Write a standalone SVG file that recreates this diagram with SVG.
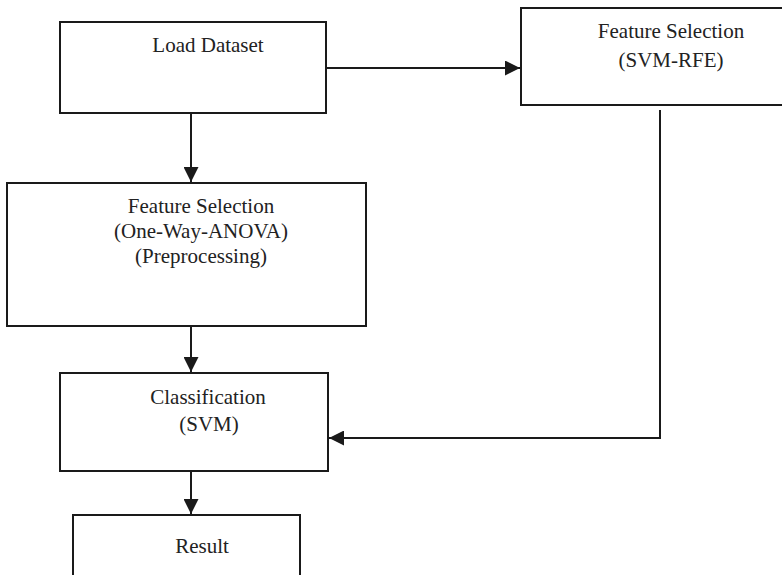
<svg xmlns="http://www.w3.org/2000/svg" width="782" height="575" viewBox="0 0 782 575">
<defs>
<style>
.box{fill:#fff;stroke:#1a1a1a;stroke-width:2}
.t{font-family:'Liberation Serif','DejaVu Serif',serif;font-size:21px;fill:#222;text-anchor:middle}
.c{fill:none;stroke:#1a1a1a;stroke-width:2}
</style>
<marker id="ah" markerWidth="15" markerHeight="15" refX="15" refY="7.5" orient="auto" markerUnits="userSpaceOnUse">
<path d="M0,0 L15,7.5 L0,15 Z" fill="#1a1a1a"/>
</marker>
</defs>
<rect width="782" height="575" fill="#fff"/>
<g id="connectors">
<line class="c" x1="327" y1="68" x2="520" y2="68" marker-end="url(#ah)"/>
<line class="c" x1="191" y1="114" x2="191" y2="182" marker-end="url(#ah)"/>
<line class="c" x1="191" y1="327" x2="191" y2="372" marker-end="url(#ah)"/>
<line class="c" x1="191" y1="472" x2="191" y2="514" marker-end="url(#ah)"/>
<polyline class="c" points="660,110 660,438 329,438" marker-end="url(#ah)"/>
</g>
<g id="load">
<rect class="box" x="60" y="22" width="266" height="91"/>
<text class="t" x="208" y="52" font-family="Liberation Serif">Load Dataset</text>
</g>
<g id="fs-rfe">
<rect class="box" x="521" y="8" width="262" height="97"/>
<text class="t" x="671" y="38" font-family="Liberation Serif">Feature Selection</text>
<text class="t" x="671" y="67" font-family="Liberation Serif">(SVM-RFE)</text>
</g>
<g id="fs-anova">
<rect class="box" x="7" y="183" width="359" height="143"/>
<text class="t" x="201" y="213" font-family="Liberation Serif">Feature Selection</text>
<text class="t" x="201" y="238" font-family="Liberation Serif">(One-Way-ANOVA)</text>
<text class="t" x="201" y="263" font-family="Liberation Serif">(Preprocessing)</text>
</g>
<g id="classification">
<rect class="box" x="60" y="373" width="268" height="98"/>
<text class="t" x="208" y="404" font-family="Liberation Serif">Classification</text>
<text class="t" x="209" y="431" font-family="Liberation Serif">(SVM)</text>
</g>
<g id="result">
<rect class="box" x="73" y="515" width="227" height="70"/>
<text class="t" x="202" y="553" font-family="Liberation Serif">Result</text>
</g>
</svg>
